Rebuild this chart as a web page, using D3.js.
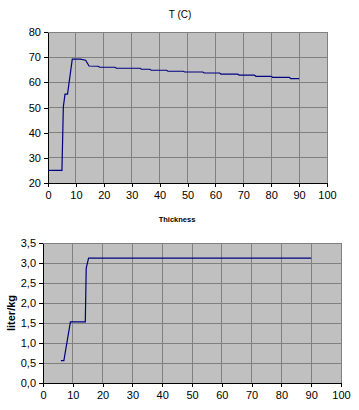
<!DOCTYPE html>
<html lang="en">
<head>
    <meta charset="UTF-8">
    <title>T (C) and Thickness</title>
    <script src="https://d3js.org/d3.v7.min.js"></script>
    <style>
        body {
            margin: 0;
            background: #fff;
            font-family: Arial, "Liberation Sans", sans-serif;
        }
        svg text { fill: #000; }
    </style>
</head>
<body>
    <div id="chart"></div>

    <script>
        // top chart: temperature vs position
        const tempX = [0, 5, 5.5, 6.1, 7, 8.7, 11.5, 13.5, 14.7, 18, 18.5, 24, 24.5, 33, 33.5, 36.5, 37, 42.5, 43, 48.5, 49, 55.5, 56, 61.5, 62, 68, 68.5, 74, 74.5, 80, 80.5, 86.5, 87, 90];
        const tempY = [25, 25, 50.3, 55.3, 55.3, 69.2, 69.2, 68.8, 66.5, 66.4, 66, 66, 65.6, 65.6, 65.2, 65.2, 64.8, 64.8, 64.4, 64.4, 64.1, 64.1, 63.7, 63.7, 63.3, 63.3, 62.9, 62.9, 62.4, 62.4, 62, 62, 61.5, 61.5];
        const tempTicksY = [20, 30, 40, 50, 60, 70, 80];

        // bottom chart: liter/kg vs thickness
        const thickX = [6, 7, 9.2, 14.2, 14.5, 15.3, 90];
        const thickY = [0.56, 0.56, 1.53, 1.53, 2.87, 3.12, 3.12];
        const thickTicksY = [0, 0.5, 1, 1.5, 2, 2.5, 3, 3.5];

        const xTicks = [0, 10, 20, 30, 40, 50, 60, 70, 80, 90, 100];

        const svg = d3.select("#chart").append("svg")
            .attr("width", 359)
            .attr("height", 410);

        function drawPanel(opt) {
            const x = d3.scaleLinear().domain([0, 100]).range([opt.left, opt.right]);
            const y = d3.scaleLinear().domain(opt.yDomain).range([opt.bottom, opt.top]);
            const g = svg.append("g");

            g.append("rect")
                .attr("x", opt.left).attr("y", opt.top)
                .attr("width", opt.right - opt.left)
                .attr("height", opt.bottom - opt.top)
                .attr("fill", "#c0c0c0");

            // grid
            g.selectAll(".vg").data(xTicks.slice(1)).enter().append("line")
                .attr("x1", d => x(d)).attr("x2", d => x(d))
                .attr("y1", opt.top).attr("y2", opt.bottom)
                .attr("stroke", "#808080").attr("stroke-width", 1)
                .attr("shape-rendering", "crispEdges");
            g.selectAll(".hg").data(opt.yTicks.slice(1)).enter().append("line")
                .attr("x1", opt.left).attr("x2", opt.right)
                .attr("y1", d => y(d)).attr("y2", d => y(d))
                .attr("stroke", "#808080").attr("stroke-width", 1)
                .attr("shape-rendering", "crispEdges");

            const xAxis = d3.axisBottom(x).tickValues(xTicks).tickSize(4).tickSizeOuter(0).tickPadding(4);
            const yAxis = d3.axisLeft(y).tickValues(opt.yTicks).tickSize(4).tickSizeOuter(0).tickPadding(3)
                .tickFormat(opt.yFormat);

            const ax = g.append("g").attr("transform", `translate(0,${opt.bottom})`).call(xAxis);
            const ay = g.append("g").attr("transform", `translate(${opt.left},0)`).call(yAxis);
            [ax, ay].forEach(a => {
                a.select(".domain").attr("stroke", "#000").attr("shape-rendering", "crispEdges");
                a.selectAll(".tick line").attr("stroke", "#000").attr("shape-rendering", "crispEdges");
                a.selectAll("text").attr("font-size", 11).attr("font-family", "Arial, 'Liberation Sans', sans-serif").attr("fill", "#000");
            });

            const pts = opt.xs.map((d, i) => [d, opt.ys[i]]);
            g.append("path")
                .datum(pts)
                .attr("d", d3.line().x(d => x(d[0])).y(d => y(d[1])))
                .attr("fill", "none")
                .attr("stroke", "#000080")
                .attr("stroke-width", 1.2);
        }

        drawPanel({
            left: 48, right: 327, top: 32, bottom: 183,
            yDomain: [20, 80], yTicks: tempTicksY,
            yFormat: d3.format("d"),
            xs: tempX, ys: tempY
        });

        drawPanel({
            left: 43, right: 341, top: 243, bottom: 383,
            yDomain: [0, 3.5], yTicks: thickTicksY,
            yFormat: d => d3.format(".1f")(d).replace(".", ","),
            xs: thickX, ys: thickY
        });

        svg.append("text")
            .attr("x", 180).attr("y", 18)
            .attr("text-anchor", "middle")
            .attr("font-size", 10)
            .text("T (C)");

        svg.append("text")
            .attr("x", 177).attr("y", 222)
            .attr("text-anchor", "middle")
            .attr("font-size", 7.5)
            .attr("font-weight", "bold")
            .text("Thickness");

        svg.append("text")
            .attr("transform", "translate(15,313) rotate(-90)")
            .attr("text-anchor", "middle")
            .attr("font-size", 11)
            .attr("font-weight", "bold")
            .text("liter/kg");
    </script>
</body>
</html>
